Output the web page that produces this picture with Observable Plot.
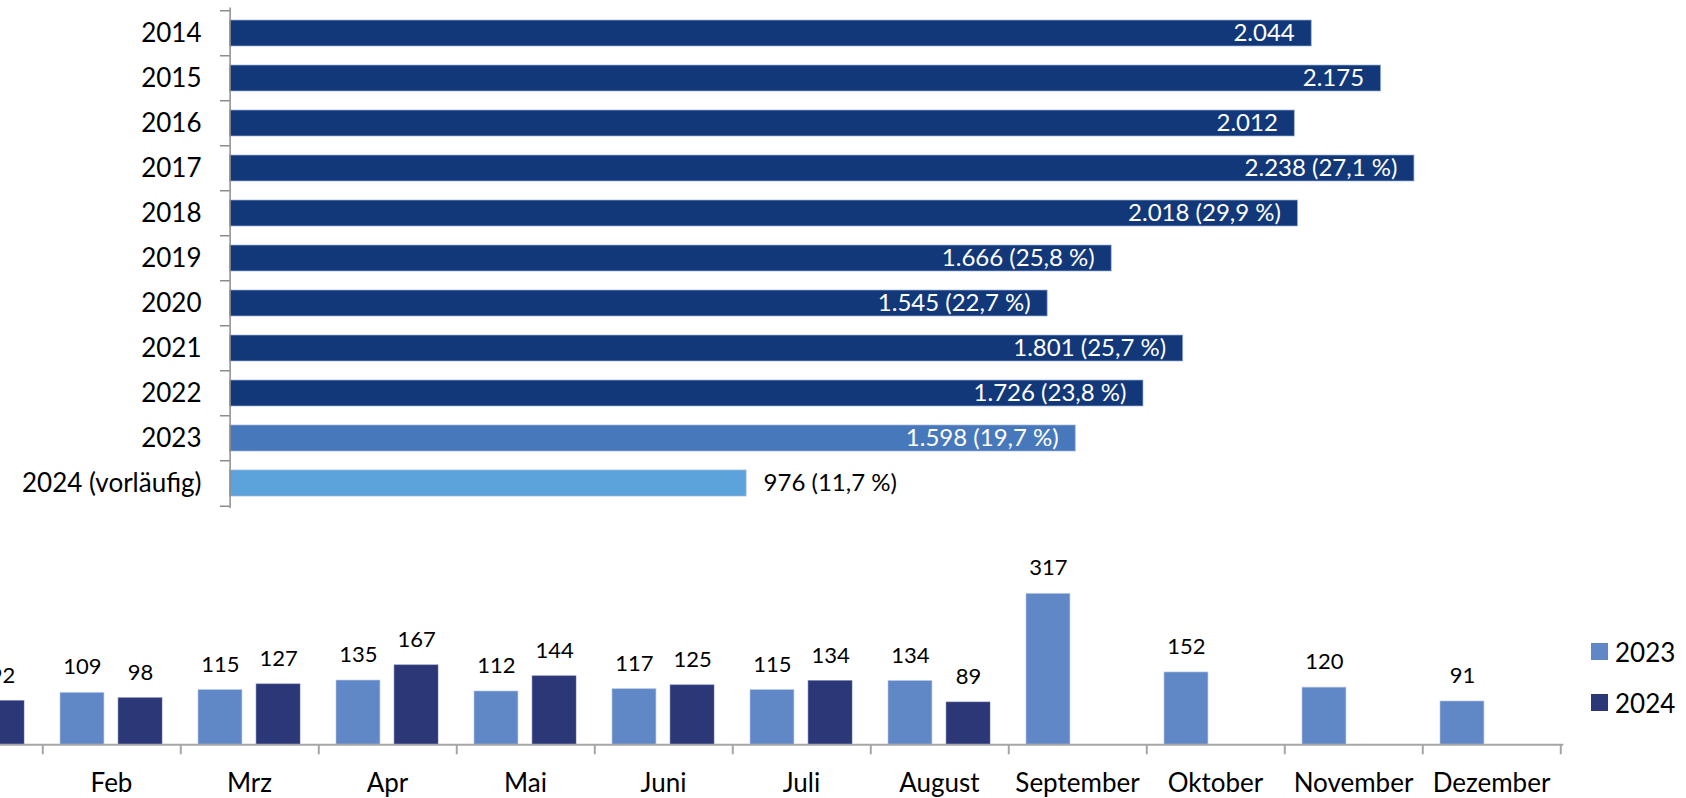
<!DOCTYPE html>
<html>
<head>
<meta charset="utf-8">
<script src="https://cdn.jsdelivr.net/npm/d3@7"></script>
<script src="https://cdn.jsdelivr.net/npm/@observablehq/plot@0.6"></script>
<style>
  html, body { margin: 0; padding: 0; background: #fff; }
  #wrap { position: relative; width: 1686px; height: 798px; overflow: hidden; font-family: Lato, sans-serif; }
  #top { position: absolute; left: 0; top: 0; }
  #bottom { position: absolute; left: 0; top: 520px; }
  #legend { position: absolute; left: 1591px; top: 634px; font-family: Lato, sans-serif; font-size: 26px; color: #000; }
  #legend .row { display: flex; align-items: center; height: 35px; margin-bottom: 16px; }
  #legend .sw { width: 17px; height: 17px; margin-right: 7px; }
  svg { overflow: hidden; }
</style>
</head>
<body>
<div id="wrap">
  <div id="top"></div>
  <div id="bottom"></div>
  <div id="legend"></div>
</div>
<script>
// ---------- data ----------
const years = ["2014", "2015", "2016", "2017", "2018", "2019", "2020", "2021", "2022", "2023", "2024 (vorläufig)"];
const yearTotals = [2044, 2175, 2012, 2238, 2018, 1666, 1545, 1801, 1726, 1598, 976];
const yearShares = [null, null, null, 27.1, 29.9, 25.8, 22.7, 25.7, 23.8, 19.7, 11.7];

const months = ["Jan", "Feb", "Mrz", "Apr", "Mai", "Juni", "Juli", "August", "September", "Oktober", "November", "Dezember"];
const monthly2023 = [81, 109, 115, 135, 112, 117, 115, 134, 317, 152, 120, 91];
const monthly2024 = [92, 98, 127, 167, 144, 125, 134, 89, null, null, null, null];
const seriesNames = ["2023", "2024"];

// ---------- styles ----------
const NAVY = "#12387a";
const MID = "#4778bb";
const LIGHT = "#5ca3dc";
const S2023 = "#6087c6";
const S2024 = "#2c3778";
const AXIS = "#8c8c8c";

const de = d3.formatLocale({decimal: ",", thousands: ".", grouping: [3], currency: ["", " €"]});
const fmtInt = de.format(",d");
const fmtPct = de.format(".1f");

// ---------- top chart ----------
const topData = years.map((y, i) => ({
  year: y, value: yearTotals[i], share: yearShares[i], last: i === years.length - 1
}));
const label = d => fmtInt(d.value) + (d.share != null ? ` (${fmtPct(d.share)} %)` : "");
const fillFor = d => d.last ? LIGHT : d.year === "2023" ? MID : NAVY;

const TOP_H = 520, TOP_MT = 7.5, TOP_MB = 12;
const topStep = (TOP_H - TOP_MT - TOP_MB) / years.length;

const topPlot = Plot.plot({
  width: 1686,
  height: TOP_H,
  marginLeft: 229.6,
  marginRight: 133.4,
  marginTop: TOP_MT,
  marginBottom: TOP_MB,
  style: {fontFamily: "Lato, sans-serif", background: "transparent", color: "#000"},
  x: {domain: [0, 2500], axis: null},
  y: {domain: years, paddingInner: 0.413, paddingOuter: 0.2065, label: null},
  marks: [
    Plot.barX(topData, {x: "value", y: "year", fill: fillFor, stroke: "#9fb4dc", strokeWidth: 1, strokeOpacity: 0.7}),
    Plot.text(topData.filter(d => !d.last), {x: "value", y: "year", text: label, textAnchor: "end", dx: -17, fill: "#fff", fontSize: 24}),
    Plot.text(topData.filter(d => d.last), {x: "value", y: "year", text: label, textAnchor: "start", dx: 17, fill: "#000", fontSize: 24}),
    Plot.axisY({tickSize: 0, tickPadding: 28.6, fontSize: 26, fill: "#000", label: null}),
    Plot.ruleX([0], {stroke: AXIS, strokeWidth: 1.5}),
    Plot.ruleY(years, {y: d => d, dy: -topStep / 2, x1: 0, x2: 0, insetLeft: -9.6, stroke: AXIS, strokeWidth: 1.5}),
    Plot.ruleY([years[years.length - 1]], {y: d => d, dy: topStep / 2, x1: 0, x2: 0, insetLeft: -9.6, stroke: AXIS, strokeWidth: 1.5})
  ]
});
document.getElementById("top").append(topPlot);

// ---------- bottom chart ----------
const monthData = [];
months.forEach((m, i) => {
  if (monthly2023[i] != null) monthData.push({month: m, series: seriesNames[0], value: monthly2023[i]});
  if (monthly2024[i] != null) monthData.push({month: m, series: seriesNames[1], value: monthly2024[i]});
});
const d23 = monthData.filter(d => d.series === seriesNames[0]);
const d24 = monthData.filter(d => d.series === seriesNames[1]);

const B_W = 1686, B_H = 278, B_MT = 57.7, B_MB = 53.7, B_MR = 122.7;
const xRange = [-99.6, B_W - B_MR];
const mStep = (xRange[1] - xRange[0]) / months.length;
const OUT = 18, BW = 44.5, GAP = 13.6;

const bottomPlot = Plot.plot({
  width: B_W,
  height: B_H,
  marginLeft: 0,
  marginRight: B_MR,
  marginTop: B_MT,
  marginBottom: B_MB,
  style: {fontFamily: "Lato, sans-serif", background: "transparent", color: "#000"},
  x: {domain: months, range: xRange, padding: 0, label: null},
  y: {domain: [0, 350], axis: null},
  marks: [
    Plot.barY(d23, {x: "month", y: "value", fill: S2023, insetLeft: OUT, insetRight: mStep - OUT - BW, stroke: "#b9c9ea", strokeWidth: 1, strokeOpacity: 0.6}),
    Plot.barY(d24, {x: "month", y: "value", fill: S2024, insetLeft: OUT + BW + GAP, insetRight: mStep - OUT - 2 * BW - GAP, stroke: "#6a74a8", strokeWidth: 1, strokeOpacity: 0.5}),
    Plot.text(d23, {x: "month", y: "value", text: d => fmtInt(d.value), dx: OUT + BW / 2 - mStep / 2, dy: -18.5, lineAnchor: "bottom", fontSize: 22, fill: "#000"}),
    Plot.text(d24, {x: "month", y: "value", text: d => fmtInt(d.value), dx: OUT + BW + GAP + BW / 2 - mStep / 2, dy: -18.5, lineAnchor: "bottom", fontSize: 22, fill: "#000"}),
    Plot.ruleY([0], {stroke: "#a6a6a6", strokeWidth: 2}),
    Plot.ruleX(months, {x: d => d, dx: mStep / 2, y1: 0, y2: 0, insetBottom: -10, stroke: "#a6a6a6", strokeWidth: 2}),
    Plot.axisX({tickSize: 0, tickPadding: 29, fontSize: 26, fill: "#000", label: null})
  ]
});
document.getElementById("bottom").append(bottomPlot);

// ---------- legend ----------
const legend = document.getElementById("legend");
[[seriesNames[0], S2023], [seriesNames[1], S2024]].forEach(([name, c]) => {
  const row = document.createElement("div");
  row.className = "row";
  const sw = document.createElement("div");
  sw.className = "sw";
  sw.style.background = c;
  const t = document.createElement("span");
  t.textContent = name;
  row.append(sw, t);
  legend.append(row);
});
</script>
</body>
</html>
